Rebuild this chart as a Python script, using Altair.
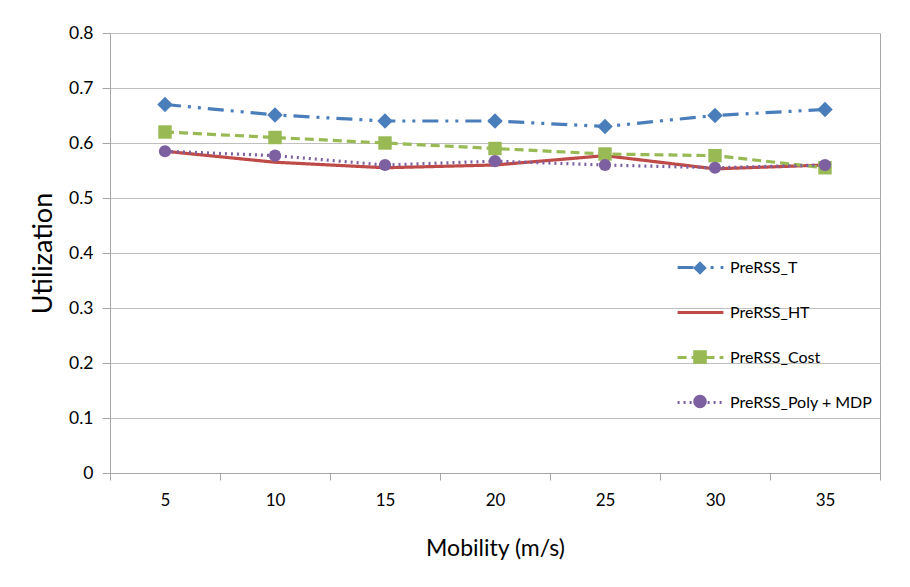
import altair as alt
import pandas as pd

mobility = [5, 10, 15, 20, 25, 30, 35]
series_names = ["PreRSS_T", "PreRSS_HT", "PreRSS_Cost", "PreRSS_Poly + MDP"]
prerss_t = [0.67, 0.651, 0.64, 0.64, 0.63, 0.65, 0.661]
prerss_ht = [0.585, 0.565, 0.555, 0.56, 0.577, 0.553, 0.56]
prerss_cost = [0.62, 0.61, 0.60, 0.59, 0.58, 0.577, 0.555]
prerss_poly = [0.585, 0.577, 0.56, 0.567, 0.56, 0.555, 0.56]

colors = ["#4A7EBB", "#BE4B48", "#98B954", "#7D60A0"]
fills = ["#4A7EBB", "transparent", "#98B954", "#7D60A0"]
dashes = [[16, 7, 3, 7, 3, 7], [1, 0], [9, 5], [2, 4]]
shapes = ["diamond", "circle", "square", "circle"]
marker_sizes = [240, 150, 175, 135]

# separate key sets so the stroke legend, marker legend and size scale stay apart
marker_keys = [n + " " for n in series_names]
size_keys = [n + "  " for n in series_names]

rows = []
for name, key, skey, vals in zip(series_names, marker_keys, size_keys,
                                 [prerss_t, prerss_ht, prerss_cost, prerss_poly]):
    for m, v in zip(mobility, vals):
        rows.append({"mobility": m, "value": v, "series": name,
                     "series2": key, "series3": skey})
df = pd.DataFrame(rows)

FONT = "Lato"
GRID = "#BFBFBF"

x_enc = alt.X(
    "mobility:O",
    bandPosition=0.5,
    scale=alt.Scale(type="band", paddingInner=0, paddingOuter=0),
    axis=alt.Axis(
        title="Mobility (m/s)", labelAngle=0, tickBand="extent",
        labelFontSize=17, titleFontSize=23, labelFont=FONT, titleFont=FONT,
        titleFontWeight="normal", labelColor="#000", titleColor="#000",
        domainColor="#A6A6A6", tickColor="#A6A6A6", tickSize=7,
        labelPadding=12, titlePadding=29, grid=False,
    ),
)
y_enc = alt.Y(
    "value:Q",
    scale=alt.Scale(domain=[0, 0.8], nice=False, zero=True),
    axis=alt.Axis(
        title="Utilization", values=[0, 0.1, 0.2, 0.3, 0.4, 0.5, 0.6, 0.7, 0.8],
        format=".1~f", labelFontSize=17.5, titleFontSize=27, labelFont=FONT,
        titleFont=FONT, titleFontWeight="normal", labelColor="#000",
        titleColor="#000", domainColor="#A6A6A6", tickColor="#A6A6A6",
        tickSize=8, labelPadding=9, titlePadding=11, grid=True,
        gridColor=GRID, gridWidth=1,
    ),
)

lines = alt.Chart(df).mark_line(strokeWidth=3.2).encode(
    x=x_enc,
    y=y_enc,
    color=alt.Color(
        "series:N",
        scale=alt.Scale(domain=series_names, range=colors),
        legend=alt.Legend(
            title=None, orient="none", legendX=566, legendY=210,
            symbolType="stroke", symbolSize=2100, symbolStrokeWidth=3,
            labelFontSize=16, labelFont=FONT, labelColor="#000",
            labelOffset=5, rowPadding=12, padding=0,
        ),
    ),
    strokeDash=alt.StrokeDash(
        "series:N",
        scale=alt.Scale(domain=series_names, range=dashes),
    ),
)

points = alt.Chart(df).mark_point(filled=True, opacity=1).encode(
    x=x_enc,
    y=y_enc,
    fill=alt.Fill(
        "series2:N",
        scale=alt.Scale(domain=marker_keys, range=fills),
        legend=alt.Legend(
            title=None, orient="none", legendX=582, legendY=227,
            symbolSize=185, labelFontSize=16, labelFont=FONT,
            labelExpr="''", rowPadding=28.5, padding=0,
            symbolStrokeWidth=0,
        ),
    ),
    shape=alt.Shape(
        "series2:N",
        scale=alt.Scale(domain=marker_keys, range=shapes),
    ),
    size=alt.Size(
        "series3:N",
        scale=alt.Scale(domain=size_keys, range=marker_sizes),
        legend=None,
    ),
)

chart = alt.layer(lines, points).properties(
    width=770, height=440,
    background="white",
    padding={"left": 110, "top": 33, "right": 30, "bottom": 114},
    autosize=alt.AutoSizeParams(type="none"),
).configure_view(stroke="#A6A6A6", strokeWidth=1)

chart.save("out.html", embed_options={"renderer": "svg", "actions": False})
